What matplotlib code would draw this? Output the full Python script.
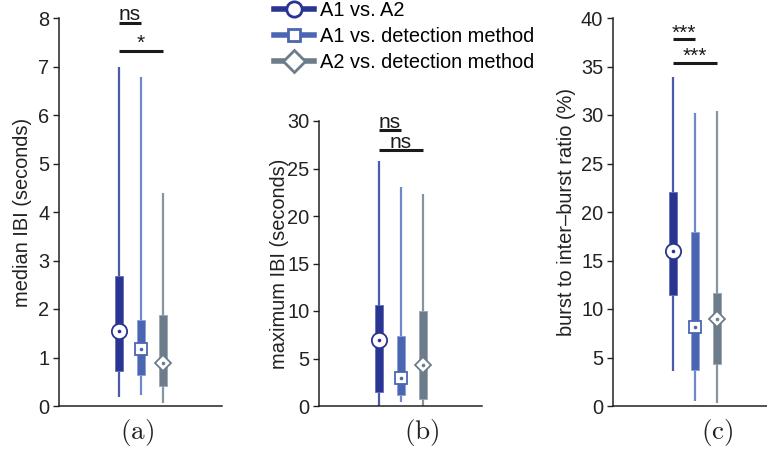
import matplotlib
matplotlib.use("Agg")
import matplotlib.pyplot as plt
from matplotlib.lines import Line2D

plt.rcParams['font.family'] = ['Liberation Sans', 'DejaVu Sans']
plt.rcParams['mathtext.fontset'] = 'cm'

series = ["A1 vs. A2", "A1 vs. detection method", "A2 vs. detection method"]
positions = [1, 2, 3]

# panel (a): median IBI (seconds)
a_low = [0.18, 0.23, 0.07]
a_q1 = [0.73, 0.64, 0.41]
a_med = [1.54, 1.17, 0.89]
a_q3 = [2.69, 1.77, 1.87]
a_high = [7.0, 6.78, 4.39]

# panel (b): maximum IBI (seconds)
b_low = [0.0, 0.47, 0.0]
b_q1 = [1.5, 1.12, 0.72]
b_med = [6.95, 2.93, 4.35]
b_q3 = [10.64, 7.32, 10.05]
b_high = [25.76, 23.07, 22.35]

# panel (c): burst to inter-burst ratio (%)
c_low = [3.6, 0.48, 0.31]
c_q1 = [11.46, 3.68, 4.33]
c_med = [16.03, 8.1, 8.95]
c_q3 = [22.1, 17.94, 11.63]
c_high = [33.9, 30.2, 30.45]

box_colors = ["#2A3491", "#4A66B3", "#6C7C8A"]
whisk_colors = ["#4A5AAE", "#6F88CC", "#8693A0"]
edge_colors = ["#6470B8", "#8AA0D8", "#9AA6B2"]
markers = ["o", "s", "D"]
msizes = [11, 8, 8]

FS = 14.4

fig = plt.figure(figsize=(7.67, 4.49), dpi=100)
W, H = 767.0, 449.0

def make_ax(left_px, top_px, bottom_px=406, width_px=163):
    return fig.add_axes([left_px / W, (H - bottom_px) / H, width_px / W, (bottom_px - top_px) / H])

xl = (1 - 60 / 22.0, 1 - 60 / 22.0 + 163 / 22.0)

def draw_panel(ax, low, q1, med, q3, high, ylim, yticks, ylabel, labx, tag, tagx):
    for i, p in enumerate(positions):
        ax.vlines(p, low[i], high[i], color=whisk_colors[i], lw=1.6, zorder=2)
        ax.bar(p, q3[i] - q1[i], bottom=q1[i], width=0.4, color=box_colors[i],
               edgecolor=edge_colors[i], linewidth=0.6, zorder=3)
        ax.plot(p, med[i], marker=markers[i], ms=msizes[i], mfc="white",
                mec=box_colors[i], mew=1.3, zorder=4, clip_on=False)
        ax.plot(p, med[i], marker="o", ms=2.6, mfc=box_colors[i], mec=box_colors[i],
                mew=0, zorder=5, clip_on=False)
    ax.set_xlim(*xl)
    ax.set_ylim(*ylim)
    ax.set_yticks(yticks)
    ax.set_xticks([])
    ax.spines['top'].set_visible(False)
    ax.spines['right'].set_visible(False)
    for s in ['left', 'bottom']:
        ax.spines[s].set_linewidth(1.1)
        ax.spines[s].set_color("#222222")
    ax.tick_params(axis='y', direction='out', length=4, width=1.0, labelsize=FS, pad=3,
                   colors="#222222")
    ax.set_ylabel(ylabel, fontsize=FS, color="#222222")
    ax.yaxis.set_label_coords(labx, 0.5)
    fig_y = (H - 433) / H
    ax.text(tagx, fig_y, tag, transform=ax.get_xaxis_transform().__class__(ax.transAxes, fig.transFigure),
            ha="center", va="center", fontsize=19.5, color="#222222")

def sig(ax, x0, x1, y, text, ty, fs):
    ax.plot([x0, x1], [y, y], color="#1a1a1a", lw=2.2, solid_capstyle="butt", clip_on=False)
    ax.text((x0 + x1) / 2, ty, text, ha="center", va="baseline", fontsize=fs,
            color="#1a1a1a", clip_on=False)

axa = make_ax(59, 18)
draw_panel(axa, a_low, a_q1, a_med, a_q3, a_high, (0, 8), range(0, 9),
           "median IBI (seconds)", -0.165, r"$\mathrm{(a)}$", 0.48)
sig(axa, 1, 2, 7.89, "ns", 7.96, 15)
sig(axa, 1, 3, 7.32, "*", 7.36, 15)

axb = make_ax(319, 121)
draw_panel(axb, b_low, b_q1, b_med, b_q3, b_high, (0, 30), range(0, 31, 5),
           "maximum IBI (seconds)", -0.184, r"$\mathrm{(b)}$", 0.63)
sig(axb, 1, 2, 29.05, "ns", 29.3, 15)
sig(axb, 1, 3, 26.9, "ns", 27.2, 15)

axc = make_ax(613, 18)
draw_panel(axc, c_low, c_q1, c_med, c_q3, c_high, (0, 40), range(0, 41, 5),
           "burst to inter\u2013burst ratio (%)", -0.227, r"$\mathrm{(c)}$", 0.64)
sig(axc, 1, 2, 37.8, "***", 37.9, 15)
sig(axc, 1, 3, 35.4, "***", 35.5, 15)

handles = [Line2D([0], [0], color=box_colors[i], lw=4, marker=markers[i],
                  ms=[11, 8.5, 11][i], mfc="white", mec=box_colors[i], mew=2)
           for i in range(3)]
fig.legend(handles, series, loc="upper left", bbox_to_anchor=(274 / W, 1 - 1 / H),
           frameon=False, fontsize=FS, handlelength=2.0, handletextpad=0.3,
           labelspacing=0.36, borderpad=0, borderaxespad=0)

fig.savefig("out.png", dpi=100)
